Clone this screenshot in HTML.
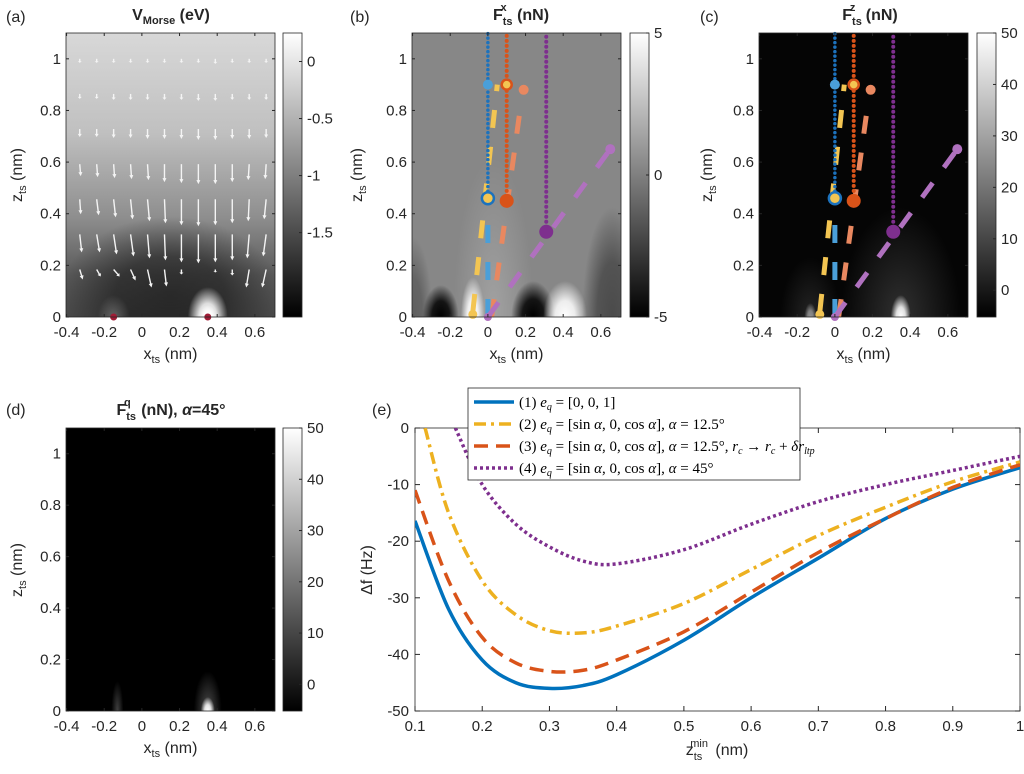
<!DOCTYPE html>
<html><head><meta charset="utf-8"><style>
body{margin:0;background:#fff;}
svg{display:block;font-family:"Liberation Sans",sans-serif;}
</style></head><body>
<svg id="fig" width="1024" height="774" viewBox="0 0 1024 774">
<defs>
<linearGradient id="cbar" x1="0" y1="1" x2="0" y2="0"><stop offset="0" stop-color="#000"/><stop offset="1" stop-color="#fff"/></linearGradient>
<linearGradient id="bgA" x1="0" y1="0" x2="0" y2="1"><stop offset="0" stop-color="#d8d8d8"/><stop offset="0.35" stop-color="#c0c0c0"/><stop offset="0.65" stop-color="#8e8e8e"/><stop offset="0.85" stop-color="#5a5a5a"/><stop offset="1" stop-color="#4a4a4a"/></linearGradient>
<radialGradient id="blk" cx="0.5" cy="0.5" r="0.5"><stop offset="0" stop-color="#000"/><stop offset="0.5" stop-color="#000" stop-opacity="0.85"/><stop offset="1" stop-color="#000" stop-opacity="0"/></radialGradient>
<radialGradient id="wht" cx="0.5" cy="0.5" r="0.5"><stop offset="0" stop-color="#fff"/><stop offset="0.45" stop-color="#fff" stop-opacity="0.85"/><stop offset="1" stop-color="#fff" stop-opacity="0"/></radialGradient>
<radialGradient id="glow" cx="0.5" cy="0.5" r="0.5"><stop offset="0" stop-color="#fff" stop-opacity="0.5"/><stop offset="1" stop-color="#fff" stop-opacity="0"/></radialGradient>
<clipPath id="cA"><rect x="66" y="33" width="209" height="284"/></clipPath>
<clipPath id="cB"><rect x="412" y="33" width="209" height="284"/></clipPath>
<clipPath id="cC"><rect x="759" y="33" width="209" height="284"/></clipPath>
<clipPath id="cD"><rect x="66" y="428" width="209" height="283"/></clipPath>
<clipPath id="cE"><rect x="415" y="428" width="605" height="283"/></clipPath>
</defs>
<g id="root"></g>
</svg>
<script>
// Panel (e) data
const zmin = [0.1,0.15,0.2,0.25,0.3,0.35,0.4,0.5,0.6,0.7,0.8,0.9,1.0];
const df1 = [-16.4,-32,-41,-45,-46,-45.5,-43.6,-37.5,-30,-23,-16,-10.8,-7];
const df3 = [-11,-27,-37,-41.5,-43,-42.8,-41,-36,-29,-22,-16,-10.5,-6.5];
const df2x = [0.115,0.15,0.2,0.25,0.3,0.35,0.4,0.5,0.6,0.7,0.8,0.9,1.0];
const df2 = [0,-15,-27,-33,-35.8,-36.2,-35,-31,-25,-19,-14,-9.5,-6];
const df4x = [0.16,0.2,0.25,0.3,0.35,0.4,0.5,0.6,0.7,0.8,0.9,1.0];
const df4 = [0,-10,-17,-21,-23.5,-24,-21.5,-17,-13,-10,-7.5,-5];
const eXTicks = [0.1,0.2,0.3,0.4,0.5,0.6,0.7,0.8,0.9,1];
const eYTicks = [0,-10,-20,-30,-40,-50];
const xTicks = [-0.4,-0.2,0,0.2,0.4,0.6];
const xTickLabels = ["-0.4","-0.2","0","0.2","0.4","0.6"];
const zTicks = [0,0.2,0.4,0.6,0.8,1];
const zTickLabels = ["0","0.2","0.4","0.6","0.8","1"];
const cbA = [0,-0.5,-1,-1.5]; const cbB=[5,0,-5]; const cbC=[50,40,30,20,10,0];
// force-field arrow rows (z, nm) and lengths (px) per row, columns x (nm)
const arrowZ = [1.0,0.864,0.728,0.592,0.456,0.32,0.184];
const arrowX = [-0.33,-0.24,-0.15,-0.06,0.03,0.12,0.21,0.30,0.39,0.48,0.57,0.66];
const arrowLen = [
 [4,4,4,4,4,4,4,4,5,4,4,4],
 [5,5,6,6,6,6,6,7,7,6,6,6],
 [8,8,9,9,10,10,10,11,11,10,10,9],
 [12,13,14,15,16,18,19,20,20,18,16,15],
 [15,16,18,20,22,24,26,27,26,24,22,20],
 [18,18,20,22,24,26,28,29,28,26,24,22],
 [10,7,7,11,18,17,5,0,3,6,18,18]];
const arrowDx = [
 [0,0,0,0,0,0,0,0,0,0,0,0],
 [0,0,0,0,0,0,0,0,0,0,0,0],
 [0,0,0,0,0,0,0,0,0,0,0,0],
 [1,1,1,1,1,0,0,0,0,0,-1,-1],
 [1,2,2,2,2,1,0,0,0,0,-1,-2],
 [2,3,3,3,2,1,0,0,0,0,-2,-3],
 [3,4,6,5,4,2,0,0,0,0,-3,-4]];

const NS="http://www.w3.org/2000/svg";
const root=document.getElementById('root');
function mk(tag,attrs,parent,txt){const e=document.createElementNS(NS,tag);for(const k in attrs)e.setAttribute(k,attrs[k]);if(txt!==undefined)e.textContent=txt;(parent||root).appendChild(e);return e;}

const W=209,H=284,TOP=33;
function panelMap(left,top,h){return {x:v=>left+(v+0.403)/1.11*W, z:v=>top+h-v/1.1*h};}

function heatPanel(name,left,top,h,kind,clip){
  const g=mk('g',{'clip-path':'url(#'+clip+')'});
  
  
  const m=panelMap(left,top,h);
  const E=(x,rx,ry,f,op,zc)=>mk('ellipse',{cx:m.x(x),cy:m.z(zc||0),rx:rx,ry:ry,fill:f,opacity:op||1},g);
  if(kind==='a'){
    mk('rect',{x:left,y:top,width:W,height:h,fill:'url(#bgA)'},g);
    E(0.15,110,80,'url(#blk)',0.5,0.08);
    E(0.35,20,30,'url(#wht)');
    E(0.35,9,12,'url(#wht)');
    E(-0.15,16,22,'url(#glow)',0.5);
  } else if(kind==='b'){
    mk('rect',{x:left,y:top,width:W,height:h,fill:'#878787'},g);
    E(0.03,40,160,'url(#glow)',0.45);
    E(-0.25,18,32,'url(#blk)');
    E(-0.08,12,40,'url(#wht)');
    E(0.24,22,36,'url(#blk)');
    E(0.41,22,36,'url(#wht)');
    E(0.66,30,110,'url(#blk)',0.45);
    E(-0.4,20,80,'url(#blk)',0.3);
  } else if(kind==='c'){
    mk('rect',{x:left,y:top,width:W,height:h,fill:'#050505'},g);
    E(0.35,60,110,'url(#glow)',0.35);
    E(0.35,10,22,'url(#wht)');
    E(-0.13,30,60,'url(#glow)',0.25);
    E(-0.13,6,14,'url(#wht)',0.5);
  } else {
    mk('rect',{x:left,y:top,width:W,height:h,fill:'#000'},g);
    E(0.35,14,40,'url(#glow)',0.6);
    E(0.35,7,14,'url(#wht)');
    E(-0.13,6,30,'url(#glow)',0.5);
  }
  return m;
}
function axesFrame(name,left,top,h){
  const m=panelMap(left,top,h);
  const f=mk('rect',{x:left,y:top,width:W,height:h,fill:'none',stroke:'#262626','stroke-width':0.8});
  
  
  xTicks.forEach((t,i)=>{const x=m.x(t);
    mk('line',{x1:x,y1:top+h,x2:x,y2:top+h-3,stroke:'#262626'});
    mk('line',{x1:x,y1:top,x2:x,y2:top+3,stroke:'#262626'});
    const l=mk('text',{x:x,y:top+h+20,'font-size':15,'text-anchor':'middle',fill:'#262626'},root,xTickLabels[i]);
    
    });
  zTicks.forEach((t,i)=>{const y=m.z(t);
    mk('line',{x1:left,y1:y,x2:left+3,y2:y,stroke:'#262626'});
    mk('line',{x1:left+W,y1:y,x2:left+W-3,y2:y,stroke:'#262626'});
    const l=mk('text',{x:left-5,y:y+5,'font-size':15,'text-anchor':'end',fill:'#262626'},root,zTickLabels[i]);
    
    });
  const xl=mk('text',{x:left+W/2,y:top+h+42,'font-size':16,'text-anchor':'middle',fill:'#262626'});
  xl.innerHTML='x<tspan font-size="11" dy="4">ts</tspan><tspan dy="-4"> (nm)</tspan>';
  
  
}
function ylab(name,x,y){const t=mk('text',{x:x,y:y,'font-size':16,'text-anchor':'middle',fill:'#262626',transform:'rotate(-90 '+x+' '+y+')'});
  t.innerHTML='z<tspan font-size="11" dy="4">ts</tspan><tspan dy="-4"> (nm)</tspan>';
  
  }
function colorbar(name,x,top,h,ticks,vmin,vmax){
  const r=mk('rect',{x:x,y:top,width:19,height:h,fill:'url(#cbar)',stroke:'#262626','stroke-width':0.8});
  
  
  ticks.forEach(t=>{const y=top+h-(t-vmin)/(vmax-vmin)*h;
    mk('line',{x1:x+19,y1:y,x2:x+16,y2:y,stroke:'#262626'});
    const l=mk('text',{x:x+24,y:y+5,'font-size':15,fill:'#262626'},root,String(t));
    
    });
}
function label(txt,x,y,name){const l=mk('text',{x:x,y:y,'font-size':16,fill:'#262626'},root,txt);
  
  }
function title(html,x,y,name){const t=mk('text',{x:x,y:y,'font-size':16,'font-weight':'bold','text-anchor':'middle',fill:'#262626'});t.innerHTML=html;
  
  }

// (a)
const mA=heatPanel('panel-a',66,TOP,H,'a','cA');
const arr=mk('g',{stroke:'#f4f4f4','stroke-width':1.4,fill:'#f4f4f4','clip-path':'url(#cA)'});


arrowZ.forEach((z,ri)=>{arrowX.forEach((x,ci)=>{
  const L=arrowLen[ri][ci], dx=arrowDx[ri][ci]; if(L<2) return;
  const x0=mA.x(x),y0=mA.z(z);
  const len=Math.hypot(dx,L), ux=dx/len, uy=L/len, hs=Math.min(4,L*0.4);
  const tx=x0+dx, ty=y0+L;
  mk('line',{x1:x0,y1:y0,x2:tx-ux*hs*0.6,y2:ty-uy*hs*0.6},arr);
  mk('path',{d:`M${tx},${ty}L${tx-ux*hs-uy*2},${ty-uy*hs+ux*2}L${tx-ux*hs+uy*2},${ty-uy*hs-ux*2}Z`,stroke:'none'},arr);
});});
[-0.15,0.35].forEach(x=>mk('circle',{cx:mA.x(x),cy:TOP+H,r:3.5,fill:'#a01c36'}));
axesFrame('panel-a',66,TOP,H); ylab('panel-a',22,175);
colorbar('panel-a',283,TOP,H,cbA,-2.24,0.25);
title('V<tspan font-size="11" dy="4">Morse</tspan><tspan dy="-4"> (eV)</tspan>',171,20,'panel-a-title');
label('(a)',6,22,'panel-a-label');

// overlays for (b),(c)
function overlays(m,name){
  const g=mk('g',{});
  
  
  const L=(x1,z1,x2,z2,c,w,da,cap)=>mk('line',{x1:m.x(x1),y1:m.z(z1),x2:m.x(x2),y2:m.z(z2),stroke:c,'stroke-width':w,'stroke-dasharray':da||'none','stroke-linecap':cap||'butt'},g);
  const C=(x,z,r,c,s)=>mk('circle',{cx:m.x(x),cy:m.z(z),r:r,fill:c,stroke:s||'none','stroke-width':2.5},g);
  L(-0.08,0.02,0.05,0.9,'#f3c552',5,'18 19');
  L(0,0,0,0.42,'#4a9fd9',5,'18 19');
  L(0.02,0,0.18,0.85,'#e98860',5,'18 19');
  L(0,0,0.65,0.65,'#b071bf',5,'18 19');
  L(0,0.47,0,1.1,'#1c72bd',3.5,'0 4.5','round');
  L(0.1,0.45,0.1,1.1,'#d95319',4,'0 5','round');
  L(0.31,0.33,0.31,1.1,'#7e2f8e',4,'0 5','round');
  C(-0.08,0.01,4.5,'#f3c552');C(0.19,0.88,5,'#e98860');C(0.65,0.65,5,'#b071bf');
  C(0,0.9,5,'#4a9fd9');C(0.1,0.9,5,'#f3c552','#d95319');
  C(0,0.46,6,'#f3c552','#1c72bd');C(0.1,0.45,7,'#d95319');C(0.31,0.33,7,'#7e2f8e');C(0,0,4,'#b071bf');
}
const mB=heatPanel('panel-b',412,TOP,H,'b','cB'); overlays(mB,'panel-b');
axesFrame('panel-b',412,TOP,H); ylab('panel-b',362,175);
colorbar('panel-b',630,TOP,H,cbB,-5,5);
title('F<tspan font-size="11" dy="5">ts</tspan><tspan font-size="11" dx="-12" dy="-14">x</tspan><tspan dy="9" dx="6"> (nN)</tspan>',521,20,'panel-b-title');
label('(b)',350,22,'panel-b-label');

const mC=heatPanel('panel-c',759,TOP,H,'c','cC'); overlays(mC,'panel-c');
axesFrame('panel-c',759,TOP,H); ylab('panel-c',712,175);
colorbar('panel-c',977,TOP,H,cbC,-5.2,50);
title('F<tspan font-size="11" dy="5">ts</tspan><tspan font-size="11" dx="-12" dy="-14">z</tspan><tspan dy="9" dx="6"> (nN)</tspan>',870,20,'panel-c-title');
label('(c)',700,22,'panel-c-label');

// (d)
heatPanel('panel-d',66,428,283,'d','cD');
axesFrame('panel-d',66,428,283); ylab('panel-d',22,570);
colorbar('panel-d',283,428,283,cbC,-5.2,50);
title('F<tspan font-size="11" dy="5">ts</tspan><tspan font-size="11" dx="-12" dy="-14">q</tspan><tspan dy="9" dx="6"> (nN),  </tspan><tspan font-style="italic">α</tspan>=45°',171,415,'panel-d-title');
label('(d)',6,415,'panel-d-label');

// (e)
const eL=415,eR=1020,eT=428,eB=711;
const ex=v=>eL+(v-0.1)/0.9*(eR-eL), ey=v=>eT+(-v)/50*(eB-eT);
const ef=mk('rect',{x:eL,y:eT,width:eR-eL,height:eB-eT,fill:'#fff',stroke:'#262626','stroke-width':0.8});


eXTicks.forEach(t=>{const x=ex(t);mk('line',{x1:x,y1:eB,x2:x,y2:eB-5,stroke:'#262626'});mk('line',{x1:x,y1:eT,x2:x,y2:eT+5,stroke:'#262626'});
  const l=mk('text',{x:x,y:eB+20,'font-size':15,'text-anchor':'middle',fill:'#262626'},root,String(t));
  
  });
eYTicks.forEach(t=>{const y=ey(t);mk('line',{x1:eL,y1:y,x2:eL+5,y2:y,stroke:'#262626'});mk('line',{x1:eR,y1:y,x2:eR-5,y2:y,stroke:'#262626'});
  const l=mk('text',{x:eL-6,y:y+5,'font-size':15,'text-anchor':'end',fill:'#262626'},root,String(t));
  
  });
function smooth(xs,ys){const p=xs.map((x,i)=>[ex(x),ey(ys[i])]);let d=`M${p[0][0]},${p[0][1]}`;
  for(let i=0;i<p.length-1;i++){const p0=p[i-1]||p[i],p1=p[i],p2=p[i+1],p3=p[i+2]||p2;
    d+=`C${p1[0]+(p2[0]-p0[0])/6},${p1[1]+(p2[1]-p0[1])/6} ${p2[0]-(p3[0]-p1[0])/6},${p2[1]-(p3[1]-p1[1])/6} ${p2[0]},${p2[1]}`;}return d;}
const ce=mk('g',{'clip-path':'url(#cE)',fill:'none','stroke-width':3.5});
const s1=mk('path',{d:smooth(zmin,df1),stroke:'#0072bd'},ce);


const s2=mk('path',{d:smooth(df2x,df2),stroke:'#edb120','stroke-dasharray':'12 5 3 5'},ce);


const s3=mk('path',{d:smooth(zmin,df3),stroke:'#d95319','stroke-dasharray':'14 8'},ce);


const s4=mk('path',{d:smooth(df4x,df4),stroke:'#7e2f8e','stroke-dasharray':'3 3'},ce);


const yl=mk('text',{x:372,y:570,'font-size':16,'text-anchor':'middle',fill:'#262626',transform:'rotate(-90 372 570)'},root,'Δf (Hz)');


const xl=mk('text',{x:717,y:755,'font-size':16,'text-anchor':'middle',fill:'#262626'});
xl.innerHTML='z<tspan font-size="11" dy="5">ts</tspan><tspan font-size="11" dx="-12" dy="-13">min</tspan><tspan dy="8" dx="3"> (nm)</tspan>';


label('(e)',372,415,'panel-e-label');
// legend
const lg=mk('g',{});


mk('rect',{x:468,y:388,width:332,height:92,fill:'#fff',stroke:'#262626','stroke-width':0.8},lg);
const eq='<tspan font-style="italic">e</tspan><tspan font-style="italic" font-size="10" dy="3">q</tspan><tspan dy="-3"> = </tspan>';
const rc='<tspan font-style="italic">r</tspan><tspan font-style="italic" font-size="10" dy="3">c</tspan><tspan dy="-3"> </tspan>';
const al='<tspan font-style="italic">α</tspan>';
const ent=[['#0072bd','none','(1) '+eq+'[0, 0, 1]'],
['#edb120','12 5 3 5','(2) '+eq+'[sin '+al+', 0, cos '+al+'], '+al+' = 12.5°'],
['#d95319','14 8','(3) '+eq+'[sin '+al+', 0, cos '+al+'], '+al+' = 12.5°, '+rc+'→ '+rc+'+ <tspan font-style="italic">δr</tspan><tspan font-style="italic" font-size="10" dy="3">ltp</tspan>'],
['#7e2f8e','3 3','(4) '+eq+'[sin '+al+', 0, cos '+al+'], '+al+' = 45°']];
ent.forEach((e,i)=>{const y=402+i*22;
  const ln=mk('line',{x1:474,y1:y,x2:514,y2:y,stroke:e[0],'stroke-width':3.5,'stroke-dasharray':e[1]},lg);
  
  
  const t=mk('text',{x:519,y:y+5,'font-size':15,'font-family':'Liberation Serif, serif',fill:'#000'},lg);t.innerHTML=e[2];
  
  });
</script>
</body></html>
